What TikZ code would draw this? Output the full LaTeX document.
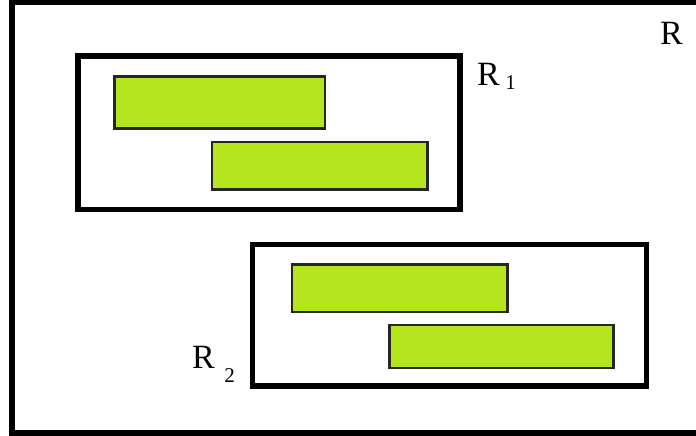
\documentclass[tikz,border=0pt]{standalone}
\usepackage{fontspec}
\setmainfont{Liberation Serif}
\usetikzlibrary{positioning}
\definecolor{barfill}{RGB}{181,230,29}

\begin{document}
\begin{tikzpicture}[x=1pt,y=-1pt,
    region/.style={draw,line width=5.5pt,inner sep=0pt,outer sep=0pt},
    bar/.style={draw=black!85,line width=2.5pt,fill=barfill,inner sep=0pt,outer sep=0pt},
    lbl/.style={font=\fontsize{34}{34}\selectfont,inner sep=0pt,anchor=base west},
    sub/.style={font=\fontsize{21}{21}\selectfont,inner sep=0pt,anchor=base west},
]
\useasboundingbox (0,0) rectangle (696,436);
\clip (0,0) rectangle (696,436);
% outer region, cut off on the right
\node[region,line width=6.5pt,minimum width=688pt,minimum height=431pt] (all) at (356,217.5) {};
\node[lbl] (alllbl) at (660,45) {R};
% region R1
\node[region,minimum width=382pt,minimum height=153.5pt] (r1) at (269,132.75) {};
\node[bar,minimum width=210.5pt,minimum height=52pt] (b1) at (219.75,102.5) {};
\node[bar,minimum width=215.5pt,minimum height=47.5pt] (b2) at (319.75,165.75) {};
\node[lbl] (r1lbl) at (477,85) {R};
\node[sub,xshift=5pt,yshift=-4pt] (r1sub) at (r1lbl.base east) {1};
% region R2
\node[region,minimum width=394pt,minimum height=141.5pt] (r2) at (449.5,315.25) {};
\node[bar,minimum width=215.5pt,minimum height=47.5pt] (b3) at (399.75,288.25) {};
\node[bar,minimum width=224pt,minimum height=43pt] (b4) at (501.5,346.5) {};
\node[lbl] (r2lbl) at (192,368) {R};
\node[sub,xshift=9pt,yshift=-14pt] (r2sub) at (r2lbl.base east) {2};
\end{tikzpicture}
\end{document}
